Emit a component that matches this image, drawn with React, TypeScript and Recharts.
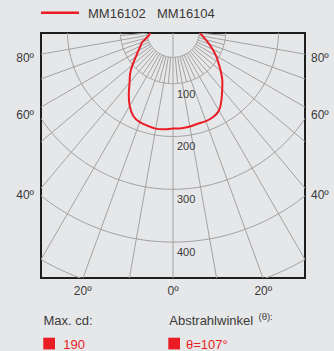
import React from 'react';
import { ScatterChart, Scatter, XAxis, YAxis, ReferenceLine, ReferenceArea } from 'recharts';

// ---- data ----
const seriesNames = ['MM16102', 'MM16104'];
const curveAngles = [
  -90, -85, -80, -75, -70, -65, -60, -55, -50, -45, -40, -35, -30, -25, -20, -15, -10, -5,
  0,
  5, 10, 15, 20, 25, 30, 35, 40, 45, 50, 55, 60, 65, 70, 75, 80, 85, 90,
];
const curveIntensity = [
  41, 43, 46, 52, 62, 68, 76, 86, 100, 115, 128, 146, 164, 178, 184, 186, 188, 187,
  185,
  185, 184, 182, 182, 180, 174, 160, 145, 132, 118, 105, 94, 83, 73, 64, 57, 52, 48,
];
const ringRadii = [50, 100, 200, 300, 400, 500];
const ringLabels = ['100', '200', '300', '400'];
const ringLabelRadii = [100, 200, 300, 400];
const majorSpokeAngles = [-90, -80, -70, -60, -50, -40, -30, -20, -10, 0, 10, 20, 30, 40, 50, 60, 70, 80, 90];
const minorSpokeAngles = [-85, -75, -65, -55, -45, -35, -25, -15, -5, 5, 15, 25, 35, 45, 55, 65, 75, 85];
const xTickValues = [-171, 0, 171];
const xTickLabels = ['20º', '0º', '20º'];
const yTickValues = [-51, -159, -311];
const yTickLabels = ['80º', '60º', '40º'];
const maxCd = '190';
const beamAngle = 'θ=107°';

// ---- styles ----
const RED = '#ea1d25';
const GRID = '#a2a2a2';
const TEXT = '#3a3a3a';
const BG = '#e6e7e9';
const FONT = '"Liberation Sans", Arial, Helvetica, sans-serif';

const toXY = (deg: number, r: number) => {
  const a = (deg * Math.PI) / 180;
  return { x: r * Math.sin(a), y: -r * Math.cos(a) };
};

const curveData = curveAngles.map((a, i) => toXY(a, curveIntensity[i]));

const ringData = ringRadii.map((r) => {
  const pts: { x: number; y: number }[] = [];
  for (let a = -180; a <= 180; a += 2) pts.push(toXY(a, r));
  return pts;
});

const ringLabelData = ringLabelRadii.map((r, i) => ({ x: 0, y: -r, label: ringLabels[i] }));

const noShape = () => <g />;

const RingLabel = (props: any) => {
  const { cx, cy, payload } = props;
  return (
    <text x={cx + 4} y={cy + 14} fontSize={11} fill={TEXT} fontFamily={FONT}>
      {payload.label}
    </text>
  );
};

export default function App() {
  const tickStyle = { fill: TEXT, fontSize: 12, fontFamily: FONT };
  return (
    <div
      style={{
        position: 'fixed',
        left: 0,
        top: 0,
        width: 334,
        height: 351,
        background: BG,
        fontFamily: FONT,
      }}
    >
      <div style={{ position: 'absolute', left: 0, top: 0 }}>
        <ScatterChart width={334} height={351} margin={{ top: 33, right: 0, bottom: 0, left: 0 }}>
          <XAxis
            type="number"
            dataKey="x"
            domain={[-250, 250]}
            allowDataOverflow
            ticks={xTickValues}
            interval={0}
            tickFormatter={(v: number) => xTickLabels[xTickValues.indexOf(v)] ?? ''}
            axisLine={false}
            tickLine={false}
            height={73}
            tick={tickStyle}
          />
          <YAxis
            yAxisId="l"
            type="number"
            dataKey="y"
            domain={[-468, -4]}
            allowDataOverflow
            ticks={yTickValues}
            interval={0}
            tickFormatter={(v: number) => yTickLabels[yTickValues.indexOf(v)] ?? ''}
            axisLine={false}
            tickLine={false}
            width={41}
            tickMargin={1}
            tick={tickStyle}
          />
          <YAxis
            yAxisId="r"
            orientation="right"
            type="number"
            dataKey="y"
            domain={[-468, -4]}
            allowDataOverflow
            ticks={yTickValues}
            interval={0}
            tickFormatter={(v: number) => yTickLabels[yTickValues.indexOf(v)] ?? ''}
            axisLine={false}
            tickLine={false}
            width={29}
            tickMargin={0}
            tick={{ ...tickStyle, textAnchor: 'start' }}
          />
          {ringData.map((pts, i) => (
            <Scatter
              key={'ring' + i}
              yAxisId="l"
              data={pts}
              line={{ stroke: GRID, strokeWidth: 1 }}
              lineJointType="linear"
              shape={noShape}
              isAnimationActive={false}
              legendType="none"
            />
          ))}
          {majorSpokeAngles.map((a) => {
            const p0 = toXY(a, a === 0 ? 0 : 50);
            const p1 = toXY(a, 900);
            return (
              <ReferenceLine
                key={'maj' + a}
                yAxisId="l"
                segment={[p0, p1]}
                stroke={GRID}
                strokeWidth={1}
                ifOverflow="hidden"
              />
            );
          })}
          {minorSpokeAngles.map((a) => {
            const p0 = toXY(a, 50);
            const p1 = toXY(a, 100);
            return (
              <ReferenceLine
                key={'min' + a}
                yAxisId="l"
                segment={[p0, p1]}
                stroke={GRID}
                strokeWidth={1}
                ifOverflow="hidden"
              />
            );
          })}
          <Scatter
            yAxisId="l"
            data={ringLabelData}
            shape={RingLabel}
            isAnimationActive={false}
            legendType="none"
          />
          <Scatter
            yAxisId="l"
            name={seriesNames.join(' ')}
            data={curveData}
            line={{ stroke: RED, strokeWidth: 2 }}
            lineJointType="natural"
            shape={noShape}
            isAnimationActive={false}
          />
          <ReferenceArea
            yAxisId="l"
            x1={-250}
            x2={250}
            y1={-468}
            y2={-4}
            fill="none"
            fillOpacity={0}
            stroke="#1e1e1e"
            strokeWidth={2}
            ifOverflow="visible"
          />
        </ScatterChart>
      </div>
      <svg
        width={334}
        height={351}
        style={{ position: 'absolute', left: 0, top: 0, pointerEvents: 'none' }}
      >
        <line x1={41} x2={79} y1={12.7} y2={12.7} stroke={RED} strokeWidth={2.5} />
        <text x={88} y={17.7} fontSize={13} fill={TEXT} fontFamily={FONT}>
          {seriesNames[0]}
        </text>
        <text x={157} y={17.7} fontSize={13} fill={TEXT} fontFamily={FONT}>
          {seriesNames[1]}
        </text>
        <text x={43.5} y={324.5} fontSize={13} fill={TEXT} fontFamily={FONT}>
          Max. cd:
        </text>
        <text x={169.3} y={324.5} fontSize={13} fill={TEXT} fontFamily={FONT}>
          Abstrahlwinkel
        </text>
        <text x={258.5} y={319.5} fontSize={9.5} fill={TEXT} fontFamily={FONT}>
          (θ):
        </text>
        <rect x={43.3} y={337.7} width={11.7} height={11.7} fill={RED} />
        <text x={63.3} y={349.2} fontSize={13} fill={RED} fontFamily={FONT}>
          {maxCd}
        </text>
        <rect x={168.3} y={337.7} width={11.7} height={11.7} fill={RED} />
        <text x={186} y={349.2} fontSize={13} fill={RED} fontFamily={FONT}>
          {beamAngle}
        </text>
      </svg>
    </div>
  );
}
